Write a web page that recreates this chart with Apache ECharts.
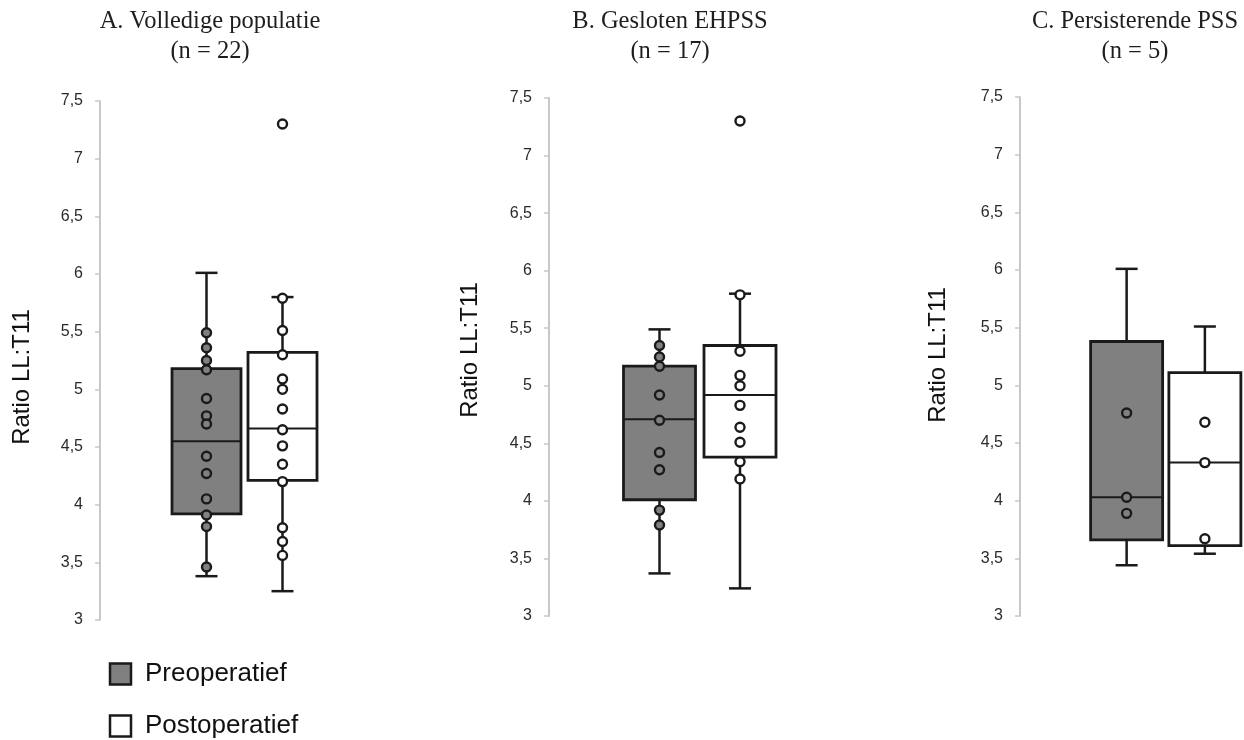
<!DOCTYPE html>
<html>
<head>
<meta charset="utf-8">
<script src="https://cdn.jsdelivr.net/npm/echarts@6/dist/echarts.min.js"></script>
<style>
html,body{margin:0;padding:0;background:#fff;}
#chart{width:1244px;height:740px;}
</style>
</head>
<body>
<div id="chart"></div>
<script>
// ---- data ----
const groups = ['Preoperatief', 'Postoperatief'];
const panelTitles = ['A. Volledige populatie', 'B. Gesloten EHPSS', 'C. Persisterende PSS'];
const panelN = ['(n = 22)', '(n = 17)', '(n = 5)'];
const yTicks = [3, 3.5, 4, 4.5, 5, 5.5, 6, 6.5, 7, 7.5];
const yName = 'Ratio LL:T11';

// box stats: [min, Q1, median, Q3, max]
const boxA_pre  = [3.38, 3.92, 4.55, 5.18, 6.01];
const boxA_post = [3.25, 4.21, 4.66, 5.32, 5.80];
const boxB_pre  = [3.37, 4.01, 4.71, 5.17, 5.49];
const boxB_post = [3.24, 4.38, 4.92, 5.35, 5.80];
const boxC_pre  = [3.44, 3.66, 4.03, 5.38, 6.01];
const boxC_post = [3.54, 3.61, 4.33, 5.11, 5.51];

// individual points
const ptsA_pre  = [5.49, 5.36, 5.25, 5.17, 4.92, 4.77, 4.70, 4.42, 4.27, 4.05, 3.91, 3.81, 3.46];
const ptsA_post = [7.30, 5.79, 5.51, 5.30, 5.09, 5.00, 4.83, 4.65, 4.51, 4.35, 4.20, 3.80, 3.68, 3.56];
const ptsB_pre  = [5.35, 5.25, 5.17, 4.92, 4.70, 4.42, 4.27, 3.92, 3.79];
const ptsB_post = [7.30, 5.79, 5.30, 5.09, 5.00, 4.83, 4.64, 4.51, 4.34, 4.19];
const ptsC_pre  = [4.76, 4.03, 3.89];
const ptsC_post = [4.68, 4.33, 3.67];

// ---- layout (positions / styles) ----
const panels = [
  {box:[boxA_pre, boxA_post], pts:[ptsA_pre, ptsA_post], gridLeft:168.5, gridWidth:152, top:101, bottom:120, offset:68.5, boxW:69,
   tx:210, nameX:22, nameY:377},
  {box:[boxB_pre, boxB_post], pts:[ptsB_pre, ptsB_post], gridLeft:619.25, gridWidth:161, top:98, bottom:124, offset:70.25, boxW:72,
   tx:670, nameX:470, nameY:350},
  {box:[boxC_pre, boxC_post], pts:[ptsC_pre, ptsC_post], gridLeft:1087.5, gridWidth:162, top:97, bottom:124, offset:67.5, boxW:72,
   tx:1135, nameX:938, nameY:355}
];
const fills = ['#808080', '#ffffff'];
const lineCol = '#1a1a1a';
const serif = 'Liberation Serif, Times New Roman, serif';
const sans = 'Liberation Sans, Arial, sans-serif';

const grid = [], xAxis = [], yAxis = [], series = [], graphic = [];
panels.forEach((p, pi) => {
  grid.push({left: p.gridLeft, width: p.gridWidth, top: p.top, bottom: p.bottom, containLabel: false});
  xAxis.push({type: 'category', gridIndex: pi, data: groups, show: false, boundaryGap: true});
  yAxis.push({
    type: 'value', gridIndex: pi, min: yTicks[0], max: yTicks[yTicks.length - 1], interval: 0.5,
    offset: p.offset,
    axisLine: {show: true, lineStyle: {color: '#c8c8c8', width: 2}},
    axisTick: {show: true, length: 5, lineStyle: {color: '#c8c8c8', width: 1.5}},
    splitLine: {show: false},
    axisLabel: {fontFamily: sans, fontSize: 16, color: '#2a2a2a', margin: 17,
      formatter: v => String(v).replace('.', ',')}
  });
  groups.forEach((g, gi) => {
    const b = p.box[gi];
    series.push({
      type: 'custom', name: g, xAxisIndex: pi, yAxisIndex: pi, clip: false, z: 2,
      data: [[gi, b[0], b[1], b[2], b[3], b[4]]],
      renderItem: (params, api) => {
        const c = api.value(0);
        const pMin = api.coord([c, api.value(1)]);
        const pQ1 = api.coord([c, api.value(2)]);
        const pMed = api.coord([c, api.value(3)]);
        const pQ3 = api.coord([c, api.value(4)]);
        const pMax = api.coord([c, api.value(5)]);
        const x = pMin[0], hw = p.boxW / 2, cap = 11;
        const ls = {stroke: lineCol, lineWidth: 2.5};
        return {type: 'group', children: [
          {type: 'line', shape: {x1: x, y1: pMax[1], x2: x, y2: pQ3[1]}, style: ls},
          {type: 'line', shape: {x1: x, y1: pQ1[1], x2: x, y2: pMin[1]}, style: ls},
          {type: 'line', shape: {x1: x - cap, y1: pMax[1], x2: x + cap, y2: pMax[1]}, style: ls},
          {type: 'line', shape: {x1: x - cap, y1: pMin[1], x2: x + cap, y2: pMin[1]}, style: ls},
          {type: 'rect', shape: {x: x - hw, y: pQ3[1], width: p.boxW, height: pQ1[1] - pQ3[1]},
           style: {fill: fills[gi], stroke: lineCol, lineWidth: 2.8}},
          {type: 'line', shape: {x1: x - hw, y1: pMed[1], x2: x + hw, y2: pMed[1]}, style: {stroke: lineCol, lineWidth: 2}}
        ]};
      }
    });
    series.push({
      type: 'scatter', name: g, xAxisIndex: pi, yAxisIndex: pi, z: 5,
      symbol: 'circle', symbolSize: 9,
      itemStyle: {color: fills[gi], borderColor: '#1a1a1a', borderWidth: 2.4, opacity: 1},
      data: p.pts[gi].map(v => [gi, v])
    });
  });
  graphic.push({type: 'text', x: p.tx, y: 21.5, style: {text: panelTitles[pi], font: '24.5px ' + serif, fill: '#1e1e1e', align: 'center', verticalAlign: 'middle'}});
  graphic.push({type: 'text', x: p.tx, y: 52, style: {text: panelN[pi], font: '24.5px ' + serif, fill: '#1e1e1e', align: 'center', verticalAlign: 'middle'}});
  graphic.push({type: 'text', x: p.nameX, y: p.nameY, rotation: Math.PI / 2,
    style: {text: yName, font: '24px ' + sans, fill: '#111', align: 'center', verticalAlign: 'middle'}});
});

// legend drawn as graphic elements
const legendRows = [{y: 674}, {y: 726}];
groups.forEach((g, gi) => {
  const cy = legendRows[gi].y;
  graphic.push({type: 'rect', shape: {x: 110, y: cy - 10.5, width: 21, height: 21},
    style: {fill: fills[gi], stroke: lineCol, lineWidth: 2.5}});
  graphic.push({type: 'text', x: 145, y: cy, style: {text: g, font: '26px ' + sans, fill: '#111', align: 'left', verticalAlign: 'middle'}});
});

const chart = echarts.init(document.getElementById('chart'), null, {renderer: 'canvas'});
chart.setOption({
  animation: false,
  backgroundColor: '#fff',
  grid, xAxis, yAxis, series, graphic
});
</script>
</body>
</html>
